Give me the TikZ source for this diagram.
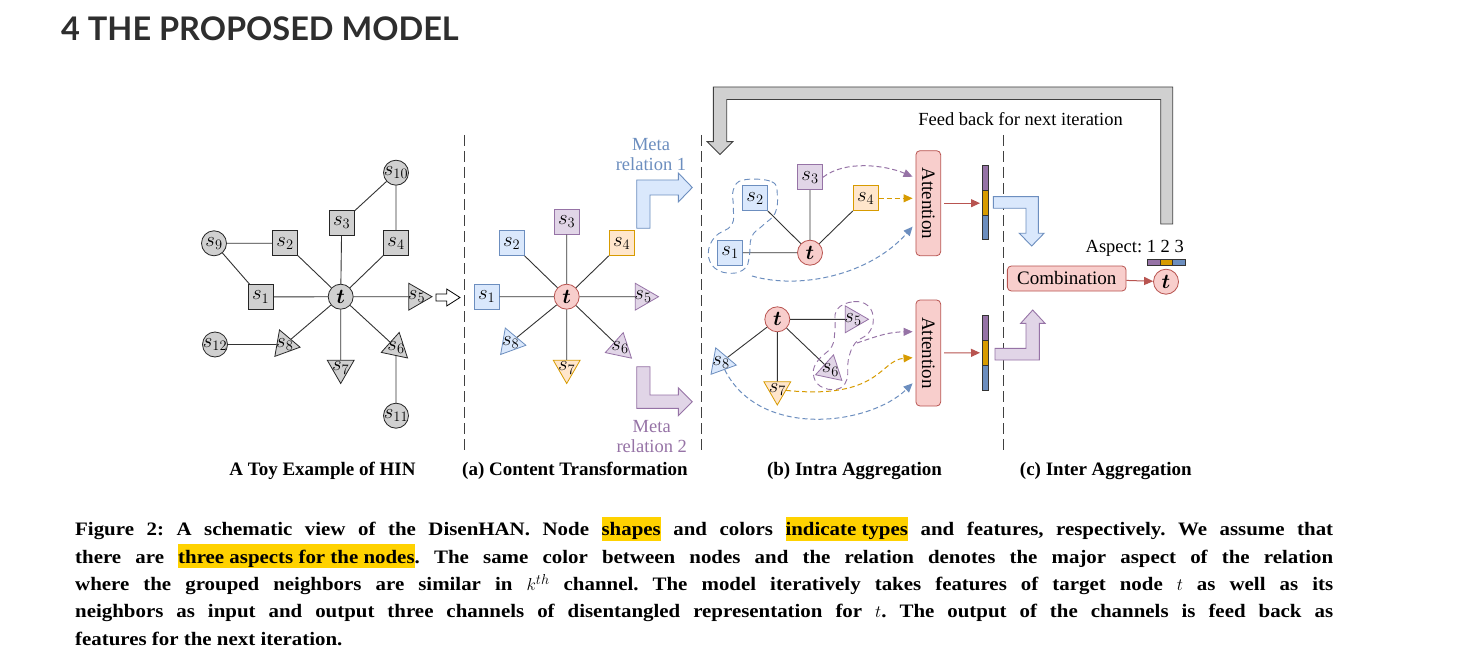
\documentclass[tikz,border=0pt]{standalone}
\usepackage{amsmath}
\usepackage{fontspec}
\setmainfont{Liberation Serif}
\newfontfamily\headfont{Lato}
\newfontfamily\capfont{Liberation Serif}[FakeStretch=1.1]
\usetikzlibrary{calc, arrows.meta, shapes.geometric}

\definecolor{bluef}{HTML}{DAE8FC}
\definecolor{blued}{HTML}{6C8EBF}
\definecolor{purf}{HTML}{E1D5E7}
\definecolor{purd}{HTML}{9673A6}
\definecolor{oraf}{HTML}{FFE6CC}
\definecolor{orad}{HTML}{D79B00}
\definecolor{redf}{HTML}{F8CECC}
\definecolor{redd}{HTML}{B85450}
\definecolor{grayf}{HTML}{D0D0D0}
\definecolor{hly}{HTML}{FFD200}
\definecolor{headc}{HTML}{2E2E2E}

\newcommand{\hlt}[1]{{\setlength{\fboxsep}{0pt}\colorbox{hly}{\rule[-5.3pt]{0pt}{24pt}#1}}}
\newcommand{\capline}[1]{\makebox[1258pt][s]{#1}}

\begin{document}
\frenchspacing
\begin{tikzpicture}[x=1pt, y=-1pt, font=\fontsize{19.5}{19.5}\selectfont,
  sq/.style={draw, rectangle, minimum size=25pt, inner sep=0pt, line width=0.8pt},
  cir/.style={draw, circle, minimum size=25pt, inner sep=0pt, line width=0.8pt},
  tri/.style={draw, regular polygon, regular polygon sides=3, minimum size=31pt,
    inner sep=0pt, line width=0.8pt, shape border rotate=#1},
  gry/.style={fill=grayf, draw=black!85},
  blu/.style={fill=bluef, draw=blued},
  pur/.style={fill=purf, draw=purd},
  org/.style={fill=oraf, draw=orad},
  rd/.style={fill=redf, draw=redd},
  lnk/.style={line width=0.9pt, black!80},
  vline/.style={line width=1.3pt, black!75, dash pattern=on 11pt off 5pt},
  blob/.style={line width=0.9pt, dash pattern=on 6pt off 4pt},
  flow/.style={line width=1pt, dash pattern=on 5pt off 3pt, -{Triangle[length=9pt, width=8pt]}},
  redarr/.style={redd, line width=1pt, -{Triangle[length=9pt, width=8pt]}},
  attbox/.style={rd, draw, rounded corners=4pt, line width=0.8pt, inner sep=0pt, font=\fontsize{19}{19}\selectfont},
  bent/.style={line width=0.9pt},
  panel/.style={anchor=base, font=\fontsize{19}{21}\selectfont\bfseries},
  captxt/.style={anchor=base west, inner sep=0pt, font=\capfont\fontsize{19}{19}\selectfont\bfseries}]
  \fill[white] (0,0) rectangle (1459,655);
  \useasboundingbox (0,0) rectangle (1459,655);

  % 标题
  \node[anchor=base west, inner sep=0pt, text=headc,
    font=\headfont\bfseries\fontsize{32.5}{33}\selectfont] (ttl) at (61,41) {4 THE PROPOSED MODEL};

  % 分隔虚线
  \draw[vline] (464.5,135) -- (464.5,455);
  \draw[vline] (701.5,135) -- (701.5,455);
  \draw[vline] (1003.5,135) -- (1003.5,455);

  % 反馈箭头 (灰)
  \draw[fill=grayf, draw=black!75, line width=0.9pt]
    (1160.7,224) -- (1172.7,224) -- (1172.7,87) -- (713.3,87) -- (713.3,141.7)
    -- (707.3,141.7) -- (720,154.5) -- (732.7,141.7) -- (726.7,141.7)
    -- (726.7,99.5) -- (1160.7,99.5) -- cycle;
  \node[font=\fontsize{18.5}{19}\selectfont] (fb) at (1020.5,119) {Feed back for next iteration};

  % 左: HIN 示例, t 在 (340.7,296.7)
  \node[cir, gry] (ht) at (340.7,296.7) {$\boldsymbol{t}$};
  \node[sq, gry] (h1) at (260.7,297) {$s_1$};
  \node[sq, gry] (h2) at (285,243.3) {$s_2$};
  \node[sq, gry] (h3) at (341.7,222.7) {$s_3$};
  \node[sq, gry] (h4) at (396,243.3) {$s_4$};
  \node[tri=-90, gry, label=center:$s_5$] (h5) at (416.5,296.7) {};
  \node[tri=-12, gry, label=center:$s_6$] (h6) at (396,347.6) {};
  \node[tri=180, gry, label=center:$s_7$] (h7) at (340.7,368) {};
  \node[tri=-100, gry, label=center:$s_8$] (h8) at (284.8,344.5) {};
  \node[cir, gry] (h9) at (214,243.3) {$s_9$};
  \node[cir, gry, label=center:$s_{10}$] (h10) at (396,172.7) {};
  \node[cir, gry, label=center:$s_{11}$] (h11) at (396,415.7) {};
  \node[cir, gry, label=center:$s_{12}$] (h12) at (215,344.5) {};
  \draw[lnk] (ht) -- (h1) (ht) -- (h2) (ht) -- (h3) (ht) -- (h4)
    (ht) -- (h5) (ht) -- (h6) (ht) -- (h7) (ht) -- (h8);
  \draw[lnk] (h9) -- (h2) (h9) -- (h1) (h10) -- (h3) (h10) -- (h4)
    (h12) -- (h8) (h11) -- (h6);
  \draw[fill=white, line width=0.8pt] (436,294) -- (446.7,294) -- (446.7,289)
    -- (460,297.5) -- (446.7,306) -- (446.7,301) -- (436,301) -- cycle;

  % (a) 内容变换
  \node[cir, rd] (at) at (566.7,296.7) {$\boldsymbol{t}$};
  \node[sq, blu] (a1) at (486.7,296.7) {$s_1$};
  \node[sq, blu] (a2) at (511.7,243.3) {$s_2$};
  \node[sq, pur] (a3) at (566.7,221.7) {$s_3$};
  \node[sq, org] (a4) at (621.7,243.3) {$s_4$};
  \node[tri=-90, pur, label=center:$s_5$] (a5) at (643,296.7) {};
  \node[tri=-12, pur, label=center:$s_6$] (a6) at (620,347.8) {};
  \node[tri=180, org, label=center:$s_7$] (a7) at (566.7,368) {};
  \node[tri=-100, blu, label=center:$s_8$] (a8) at (510.6,342.6) {};
  \draw[lnk] (at) -- (a1) (at) -- (a2) (at) -- (a3) (at) -- (a4)
    (at) -- (a5) (at) -- (a6) (at) -- (a7) (at) -- (a8);
  \draw[bent, fill=bluef, draw=blued] (636.7,228.3) -- (636.7,180) -- (678.3,180)
    -- (678.3,173) -- (692.3,187.5) -- (678.3,202) -- (678.3,195) -- (650,195)
    -- (650,228.3) -- cycle;
  \draw[bent, fill=purf, draw=purd] (636.7,366.7) -- (650,366.7) -- (650,395)
    -- (678.3,395) -- (678.3,387.7) -- (692.3,401.7) -- (678.3,415.7)
    -- (678.3,408.3) -- (636.7,408.3) -- cycle;
  \node[text=blued, align=center, font=\fontsize{18.5}{20}\selectfont] (m1) at (651,155) {Meta\\relation 1};
  \node[text=purd, align=center, font=\fontsize{18.5}{20}\selectfont] (m2) at (651.7,437) {Meta\\relation 2};

  % (b) 上: 关系 1
  \node[cir, rd] (bt) at (810,252.7) {$\boldsymbol{t}$};
  \node[sq, blu] (b1) at (730,252.7) {$s_1$};
  \node[sq, blu] (b2) at (755,198.3) {$s_2$};
  \node[sq, pur] (b3) at (810,177.3) {$s_3$};
  \node[sq, org] (b4) at (865.7,198.3) {$s_4$};
  \draw[lnk] (bt) -- (b1) (bt) -- (b2) (bt) -- (b3) (bt) -- (b4);
  \draw[blob, blued] plot[smooth cycle, tension=0.7] coordinates {
    (743.3,180) (771.7,181.7) (777.3,195) (775,213.3) (763.3,225) (751.7,236.7)
    (749.3,256.7) (745,268.3) (731.7,273.3) (715,268.3) (708.3,253.3)
    (715,236.7) (731.7,225) (733.3,206.7) (733.3,190)};
  \coordinate (blobA) at (752,276);
  \node[attbox, minimum width=24.7pt, minimum height=105pt] (att1) at (928.3,203.2) {\rotatebox{-90}{Attention}};
  \draw[flow, purd] (b3.east) .. controls (845,160) and (885,165) .. ($(att1.west)+(-3,-26.5)$);
  \draw[flow, orad] (b4.east) -- ($(att1.west)+(-3,-4.9)$);
  \draw[flow, blued] (blobA) .. controls (800,290) and (870,275) .. ($(att1.west)+(-3,23.5)$);

  % (b) 下: 关系 2
  \node[cir, rd] (ct) at (777.3,319.3) {$\boldsymbol{t}$};
  \node[tri=-90, pur, label=center:$s_5$] (c5) at (853,319.3) {};
  \node[tri=-12, pur, label=center:$s_6$] (c6) at (830.3,370) {};
  \node[tri=180, org, label=center:$s_7$] (c7) at (777.3,389.5) {};
  \node[tri=-100, blu, label=center:$s_8$] (c8) at (721,362.4) {};
  \draw[lnk] (ct) -- (c5) (ct) -- (c6) (ct) -- (c7) (ct) -- (c8);
  \draw[blob, purd] plot[smooth cycle, tension=0.7] coordinates {
    (836.7,310) (853.3,301.7) (868.3,306) (873.3,320) (868.3,333.3) (855,343.3)
    (848.3,360) (846.7,380) (836.7,389.3) (820,386) (813.3,373.3) (818.3,360)
    (831.7,346.7) (835,330)};
  \coordinate (blobB) at (857,343);
  \node[attbox, minimum width=24.7pt, minimum height=106pt] (att2) at (928.3,353) {\rotatebox{-90}{Attention}};
  \draw[flow, purd] (blobB) .. controls (880,335) and (890,332) .. ($(att2.west)+(-3,-21.3)$);
  \draw[flow, orad] (c7) .. controls (880,400) and (880,360) .. ($(att2.west)+(-3,4.7)$);
  \draw[flow, blued] (c8) .. controls (760,440) and (870,425) .. ($(att2.west)+(-3,30.3)$);

  % 输出条 (3 通道)
  \coordinate (bar1) at (980,203.2);
  \coordinate (bar2) at (980,352.8);
  \draw[redarr, shorten <=3pt] (att1.east) -- (bar1);
  \draw[redarr, shorten <=3pt] (att2.east) -- (bar2);
  \draw[fill=purd, draw=black!80, line width=0.8pt] (982,165) rectangle (988.3,190);
  \draw[fill=orad, draw=black!80, line width=0.8pt] (982,190) rectangle (988.3,215);
  \draw[fill=blued, draw=black!80, line width=0.8pt] (982,215) rectangle (988.3,239.3);
  \draw[fill=purd, draw=black!80, line width=0.8pt] (982,315.7) rectangle (988.3,340.5);
  \draw[fill=orad, draw=black!80, line width=0.8pt] (982,340.5) rectangle (988.3,365.2);
  \draw[fill=blued, draw=black!80, line width=0.8pt] (982,365.2) rectangle (988.3,390);

  % (c) 组合
  \draw[bent, fill=bluef, draw=blued] (993.3,196.7) -- (1038.3,196.7) -- (1038.3,233.3)
    -- (1044,233.3) -- (1031.7,246) -- (1019.3,233.3) -- (1026,233.3) -- (1026,208.3)
    -- (993.3,208.3) -- cycle;
  \draw[bent, fill=purf, draw=purd] (995,360) -- (1039.3,360) -- (1039.3,323.3)
    -- (1045,323.3) -- (1032.7,310) -- (1020.7,323.3) -- (1026,323.3) -- (1026,348.3)
    -- (995,348.3) -- cycle;
  \node[attbox, minimum width=118.7pt, minimum height=25pt] (comb) at (1066.7,278.5) {Combination};
  \node[cir, rd] (ot) at (1166,281.7) {$\boldsymbol{t}$};
  \draw[redarr] (comb) -- (ot);
  \node[anchor=east, font=\fontsize{18.5}{19}\selectfont, inner sep=0pt] (asp) at (1184,248.3) {Aspect: 1 2 3};
  \draw[fill=purd, draw=black!80, line width=0.8pt] (1147.3,259.3) rectangle (1159.9,265.3);
  \draw[fill=orad, draw=black!80, line width=0.8pt] (1159.9,259.3) rectangle (1172.4,265.3);
  \draw[fill=blued, draw=black!80, line width=0.8pt] (1172.4,259.3) rectangle (1185,265.3);

  % 子图标题
  \node[panel] (p0) at (322.5,475) {A Toy Example of HIN};
  \node[panel] (p1) at (575,475) {(a) Content Transformation};
  \node[panel] (p2) at (854.5,475) {(b) Intra Aggregation};
  \node[panel] (p3) at (1105.8,475) {(c) Inter Aggregation};

  % 图注
  \node[captxt] (cap1) at (75,535.7) {\capline{Figure 2: A schematic view of the DisenHAN. Node \hlt{shapes} and colors \hlt{indicate types} and features, respectively. We assume that}};
  \node[captxt] (cap2) at (75,563) {\capline{there are \hlt{three aspects for the nodes}. The same color between nodes and the relation denotes the major aspect of the relation}};
  \node[captxt] (cap3) at (75,590.3) {\capline{where the grouped neighbors are similar in $k^{th}$ channel. The model iteratively takes features of target node $t$ as well as its}};
  \node[captxt] (cap4) at (75,617.6) {\capline{neighbors as input and output three channels of disentangled representation for $t$. The output of the channels is feed back as}};
  \node[captxt] (cap5) at (75,645) {features for the next iteration.};
\end{tikzpicture}
\end{document}
